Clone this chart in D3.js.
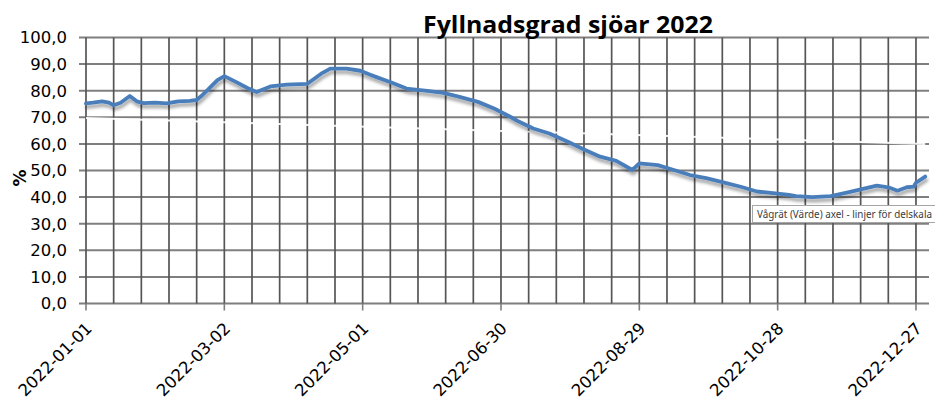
<!DOCTYPE html>
<html><head><meta charset="utf-8">
<script src="https://cdn.jsdelivr.net/npm/d3@7"></script>
<style>html,body{margin:0;padding:0;background:#fff;}svg{display:block;}</style>
</head><body>
<svg id="chart" width="935" height="401"></svg>
<script>
// ---- data ----
const chartTitle = "Fyllnadsgrad sjöar 2022";
const yAxisTitle = "%";
const tooltipText = "Vågrät (Värde) axel - linjer för delskala";
// day offset from 2022-01-01
const dayOfYear = [0,3,7,10,12,15,19,22,25,30,35,40,45,48,50,53,57,60,65,70,74,80,87,96,102,106,113,119,123,126,133,139,148,155,162,170,177,184,187,194,201,209,216,223,230,237,240,248,255,262,269,276,284,291,298,305,308,315,323,330,337,343,348,352,356,359,360,364];
const fillPct   = [75.2,75.5,76.0,75.5,74.5,75.5,78.0,76.0,75.3,75.5,75.2,76.0,76.2,76.5,78.0,80.5,84.0,85.5,83.3,81.0,79.5,81.6,82.3,82.6,86.4,88.3,88.3,87.5,86.1,85.1,82.9,80.8,79.9,79.2,77.7,75.8,73.3,70.2,68.7,65.8,63.9,60.8,57.9,55.2,53.6,50.2,52.7,52.0,50.2,48.3,47.1,45.6,43.9,42.1,41.5,40.8,40.4,40.0,40.4,41.7,43.1,44.3,43.7,42.4,43.7,43.9,45.4,47.7];
// faint white straight line seen in the picture (start / end)
const whiteLineDays = [0, 364];
const whiteLineVals = [69.7, 60.0];
const yTicks = [0,10,20,30,40,50,60,70,80,90,100];
const majorTickDays = [0,60,120,180,240,300,360];
const minorGridDays = d3.range(0, 361, 12);

// ---- layout ----
const svg = d3.select("#chart");
const start = new Date(Date.UTC(2022,0,1));
const toDate = d => d3.utcDay.offset(start, d);
const x = d3.scaleUtc().domain([start, toDate(365)]).range([86, 927.5]);
const y = d3.scaleLinear().domain([0,100]).range([303.5, 37.5]);
const fmtY = v => d3.format(".1f")(v).replace(".", ",");
const fmtX = d3.utcFormat("%Y-%m-%d");

const defs = svg.append("defs");
const f = defs.append("filter").attr("id","sh").attr("x","-5%").attr("y","-20%").attr("width","110%").attr("height","160%");
f.append("feDropShadow").attr("dx",1).attr("dy",3.5).attr("stdDeviation",1.8).attr("flood-color","#000").attr("flood-opacity",0.35);

// horizontal gridlines
svg.append("g").selectAll("line").data(yTicks).join("line")
  .attr("x1", 79).attr("x2", 929)
  .attr("y1", d => y(d)).attr("y2", d => y(d))
  .attr("stroke", "#7f7f7f").attr("stroke-width", 2);

// vertical gridlines
svg.append("g").selectAll("line").data(minorGridDays).join("line")
  .attr("x1", d => x(toDate(d))).attr("x2", d => x(toDate(d)))
  .attr("y1", y(100)).attr("y2", y(0))
  .attr("stroke", "#555555").attr("stroke-width", 1.7);

// x axis ticks
svg.append("g").selectAll("line").data(majorTickDays).join("line")
  .attr("x1", d => x(toDate(d))).attr("x2", d => x(toDate(d)))
  .attr("y1", y(0)).attr("y2", y(0) + 7)
  .attr("stroke", "#7f7f7f").attr("stroke-width", 1.6);

// white straight line
svg.append("path")
  .datum(whiteLineDays.map((d,i)=>[d, whiteLineVals[i]]))
  .attr("d", d3.line().x(d => x(toDate(d[0]))).y(d => y(d[1])))
  .attr("fill","none").attr("stroke","#ffffff").attr("stroke-width",2).attr("opacity",0.9);

// data line
svg.append("path")
  .datum(dayOfYear.map((d,i)=>[d, fillPct[i]]))
  .attr("d", d3.line().x(d => x(toDate(d[0]))).y(d => y(d[1])))
  .attr("fill","none").attr("stroke","#4a7ebb").attr("stroke-width",3.8)
  .attr("stroke-linejoin","round").attr("stroke-linecap","round")
  .attr("filter","url(#sh)");

// y tick labels
svg.append("g").selectAll("text").data(yTicks).join("text")
  .attr("x", 67).attr("y", d => y(d)).attr("dy","0.36em")
  .attr("text-anchor","end")
  .attr("font-family","'DejaVu Sans', sans-serif").attr("font-size",16.5).attr("fill","#000")
  .text(fmtY);

// x tick labels
svg.append("g").selectAll("text").data(majorTickDays).join("text")
  .attr("transform", d => `translate(${x(toDate(d)) + 7},${y(0) + 26}) rotate(-45)`)
  .attr("text-anchor","end")
  .attr("font-family","'DejaVu Sans', sans-serif").attr("font-size",16.5).attr("fill","#000")
  .text(d => fmtX(toDate(d)));

// title
svg.append("text").attr("x", 568).attr("y", 33).attr("text-anchor","middle")
  .attr("font-family","'Open Sans', sans-serif").attr("font-weight","bold").attr("font-size",24)
  .attr("textLength", 290).attr("lengthAdjust","spacingAndGlyphs")
  .text(chartTitle);

// y axis title
svg.append("text").attr("transform","translate(26,178) rotate(-90)").attr("text-anchor","middle")
  .attr("font-family","'DejaVu Sans', sans-serif").attr("font-weight","bold").attr("font-size",17)
  .text(yAxisTitle);

// tooltip box
const tip = svg.append("g");
tip.append("rect").attr("x",752.5).attr("y",205.5).attr("width",183).attr("height",17)
  .attr("fill","#fff").attr("stroke","#a6a6a6").attr("stroke-width",1);
tip.append("text").attr("x",757).attr("y",218).attr("font-family","'Noto Sans', sans-serif")
  .attr("font-size",10).attr("fill","#3c3c3c").attr("textLength",175).attr("lengthAdjust","spacingAndGlyphs")
  .text(tooltipText);
</script>
</body></html>
